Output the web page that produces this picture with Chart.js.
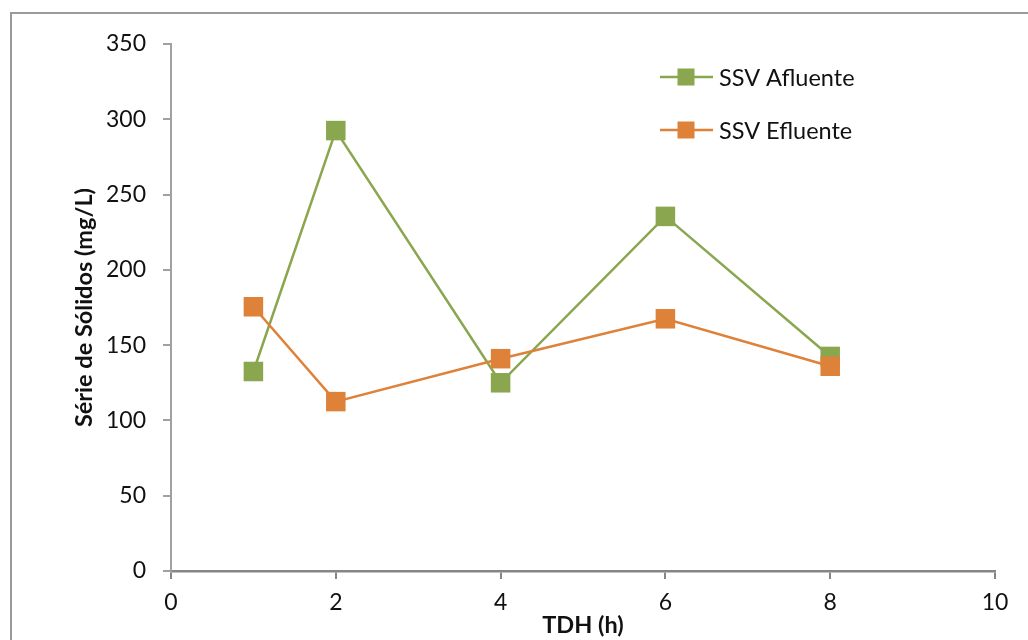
<!DOCTYPE html>
<html>
<head>
<meta charset="utf-8">
<script src="https://cdn.jsdelivr.net/npm/chart.js@4/dist/chart.umd.min.js"></script>
<style>
  html, body { margin: 0; padding: 0; background: #ffffff; }
  #wrap { position: relative; width: 1028px; height: 640px; }
  canvas { display: block; }
</style>
</head>
<body>
<div id="wrap"><canvas id="chart" width="1028" height="640"></canvas></div>
<script>
// TDH (h) sampled for each series
const tdhHours = [1, 2, 4, 6, 8];
// Volatile suspended solids, mg/L
const ssvAfluente = [132.5, 292.5, 125, 235.5, 142.5];
const ssvEfluente = [175.5, 112.5, 141, 167.5, 136];
const seriesNames = ['SSV Afluente', 'SSV Efluente'];
const seriesColors = ['#8aa64f', '#de8139'];

const FONT = 'Lato';

function toPoints(xs, ys) {
  return xs.map((x, i) => ({ x: x, y: ys[i] }));
}

// Outer frame drawn behind the chart
const framePlugin = {
  id: 'frame',
  beforeDraw(chart) {
    const ctx = chart.ctx;
    ctx.save();
    ctx.fillStyle = '#ffffff';
    ctx.fillRect(0, 0, chart.width, chart.height);
    ctx.strokeStyle = '#9a9a9a';
    ctx.lineWidth = 2;
    ctx.beginPath();
    ctx.moveTo(11, chart.height + 5);
    ctx.lineTo(11, 13);
    ctx.lineTo(chart.width + 5, 13);
    ctx.stroke();
    ctx.restore();
  }
};

// Legend with a line-and-marker key, placed inside the plot area
const keyLegendPlugin = {
  id: 'keyLegend',
  afterDraw(chart) {
    const ctx = chart.ctx;
    const area = chart.chartArea;
    const x0 = area.left + 489;
    const y0 = area.top + 33;
    const rowGap = 53;
    ctx.save();
    chart.data.datasets.forEach((ds, i) => {
      const y = y0 + i * rowGap;
      ctx.strokeStyle = ds.borderColor;
      ctx.lineWidth = 2.5;
      ctx.beginPath();
      ctx.moveTo(x0, y);
      ctx.lineTo(x0 + 53, y);
      ctx.stroke();
      ctx.fillStyle = ds.backgroundColor;
      ctx.fillRect(x0 + 17.5, y - 8.5, 17, 17);
      ctx.fillStyle = '#111111';
      ctx.font = '23.5px ' + FONT;
      ctx.textBaseline = 'middle';
      ctx.textAlign = 'left';
      ctx.fillText(ds.label, x0 + 59, y + 1);
    });
    ctx.restore();
  }
};

const datasets = [
  {
    label: seriesNames[0],
    data: toPoints(tdhHours, ssvAfluente),
    borderColor: seriesColors[0],
    backgroundColor: seriesColors[0],
    order: 1
  },
  {
    label: seriesNames[1],
    data: toPoints(tdhHours, ssvEfluente),
    borderColor: seriesColors[1],
    backgroundColor: seriesColors[1],
    order: 0
  }
].map(ds => Object.assign(ds, {
  borderWidth: 2.5,
  pointStyle: 'rect',
  pointRadius: 13.8,
  pointHoverRadius: 13.8,
  pointBorderWidth: 0,
  pointBackgroundColor: ds.backgroundColor,
  tension: 0,
  fill: false
}));

new Chart(document.getElementById('chart'), {
  type: 'line',
  data: { datasets: datasets },
  plugins: [framePlugin, keyLegendPlugin],
  options: {
    responsive: false,
    animation: false,
    events: [],
    layout: { padding: { left: 0, top: 44, right: 33, bottom: 0 } },
    plugins: {
      legend: { display: false },
      tooltip: { enabled: false }
    },
    scales: {
      x: {
        type: 'linear',
        min: 0,
        max: 10,
        ticks: {
          stepSize: 2,
          color: '#111111',
          font: { family: FONT, size: 23 },
          padding: 10
        },
        grid: {
          drawOnChartArea: false,
          drawTicks: true,
          tickLength: 8,
          color: '#868686',
          lineWidth: 2
        },
        border: { display: true, color: '#868686', width: 2.5 },
        title: {
          display: true,
          text: 'TDH (h)',
          color: '#111111',
          font: { family: FONT, size: 23.5, weight: 'bold' },
          padding: { top: 0, bottom: 0 }
        },
        afterFit(scale) { scale.height = 69; }
      },
      y: {
        type: 'linear',
        min: 0,
        max: 350,
        ticks: {
          stepSize: 50,
          color: '#111111',
          font: { family: FONT, size: 23 },
          padding: 17
        },
        grid: {
          drawOnChartArea: false,
          drawTicks: true,
          tickLength: 8,
          color: '#a0a0a0',
          lineWidth: 2
        },
        border: { display: true, color: '#a0a0a0', width: 2 },
        title: {
          display: true,
          text: 'Série de Sólidos (mg/L)',
          color: '#111111',
          font: { family: FONT, size: 23.5, weight: 'bold' },
          padding: { top: 70, bottom: 0 }
        },
        afterFit(scale) { scale.width = 171; }
      }
    }
  }
});
</script>
</body>
</html>
